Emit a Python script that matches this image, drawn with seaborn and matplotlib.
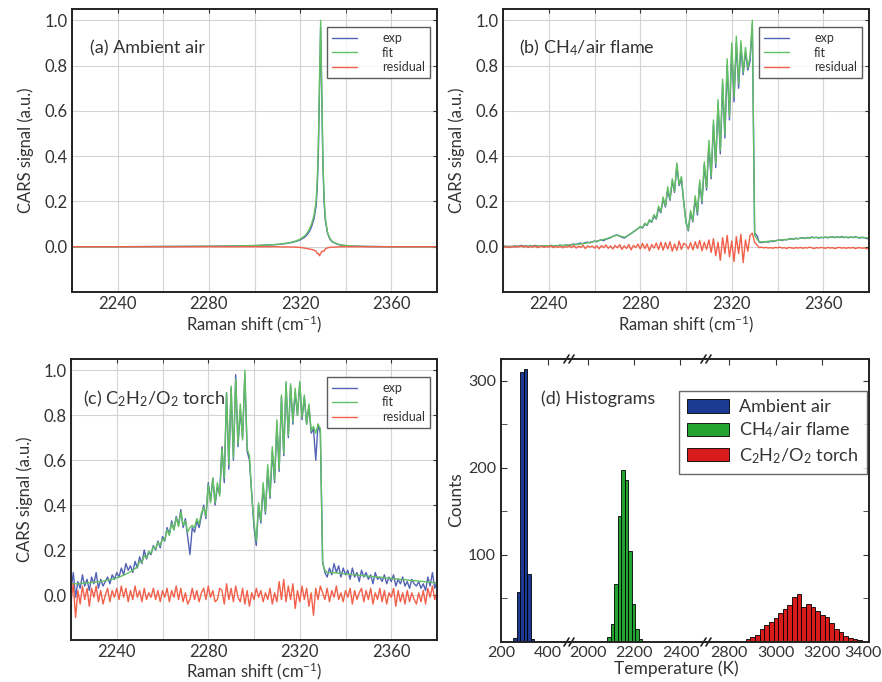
import numpy as np
import matplotlib
matplotlib.use("Agg")
import matplotlib.pyplot as plt
import matplotlib.transforms as mtransforms
import seaborn as sns
from matplotlib.patches import Patch
from matplotlib.ticker import MultipleLocator, FixedLocator

# ---------------- data ----------------
# (a) ambient air
xa = [2220, 2240, 2260, 2280, 2290, 2300, 2305, 2310, 2313, 2316, 2318, 2320, 2322, 2323, 2324, 2325,
      2326, 2327, 2327.5, 2328, 2328.5, 2329, 2329.5, 2330, 2330.5, 2331, 2332, 2333, 2334, 2336, 2338,
      2342, 2350, 2360, 2380]
exp_a = [0, 0, 0.001, 0.002, 0.003, 0.005, 0.007, 0.010, 0.013, 0.018, 0.023, 0.030, 0.042, 0.052, 0.066,
         0.088, 0.12, 0.18, 0.26, 0.42, 0.70, 0.97, 0.66, 0.36, 0.20, 0.12, 0.06, 0.035, 0.022, 0.012,
         0.007, 0.003, 0.001, 0, 0]
fit_a = [0, 0, 0.001, 0.002, 0.003, 0.005, 0.007, 0.010, 0.014, 0.019, 0.025, 0.033, 0.048, 0.060, 0.076,
         0.10, 0.135, 0.20, 0.29, 0.45, 0.74, 1.0, 0.68, 0.38, 0.22, 0.13, 0.065, 0.038, 0.024, 0.013,
         0.007, 0.003, 0.001, 0, 0]
res_a = [0, 0, 0, 0, 0, 0, 0, 0, -0.001, -0.001, -0.002, -0.003, -0.006, -0.008, -0.010, -0.012,
         -0.015, -0.020, -0.030, -0.030, -0.040, -0.030, -0.020, -0.020, -0.020, -0.010, -0.005, -0.003,
         -0.002, -0.001, 0, 0, 0, 0, 0]

# (b), (c) Raman shift grid 2220..2380 step 1
x_bc = list(range(2220, 2381))
exp_b = [0.000, 0.003, -0.002, 0.002, 0.000, 0.004, -0.001, 0.003, 0.006, 0.002,
         0.004, 0.000, 0.005, 0.002, 0.006, 0.003, 0.001, 0.004, 0.002, 0.005,
         0.003, 0.006, 0.004, 0.002, 0.005, 0.007, 0.004, 0.006, 0.008, 0.006,
         0.010, 0.012, 0.009, 0.014, 0.016, 0.013, 0.018, 0.020, 0.017, 0.022,
         0.025, 0.022, 0.028, 0.030, 0.027, 0.033, 0.036, 0.040, 0.046, 0.050,
         0.052, 0.046, 0.042, 0.038, 0.045, 0.052, 0.058, 0.066, 0.072, 0.080,
         0.088, 0.082, 0.100, 0.094, 0.115, 0.108, 0.135, 0.122, 0.170, 0.150,
         0.210, 0.175, 0.250, 0.205, 0.290, 0.240, 0.360, 0.270, 0.300, 0.200,
         0.110, 0.070, 0.150, 0.110, 0.210, 0.140, 0.280, 0.190, 0.360, 0.250,
         0.450, 0.300, 0.540, 0.350, 0.630, 0.410, 0.720, 0.480, 0.800, 0.560,
         0.880, 0.640, 0.900, 0.700, 0.880, 0.760, 0.860, 0.780, 0.820, 0.980,
         0.060, 0.050, 0.020, 0.018, 0.020, 0.022, 0.020, 0.024, 0.023, 0.026,
         0.028, 0.030, 0.027, 0.032, 0.030, 0.034, 0.036, 0.033, 0.038, 0.035,
         0.038, 0.040, 0.036, 0.041, 0.039, 0.043, 0.040, 0.042, 0.038, 0.041,
         0.040, 0.043, 0.039, 0.042, 0.044, 0.040, 0.043, 0.041, 0.045, 0.040,
         0.042, 0.039, 0.043, 0.040, 0.044, 0.041, 0.038, 0.042, 0.040, 0.036,
         0.035]
fit_b = [0.001, 0.001, 0.001, 0.001, 0.001, 0.002, 0.002, 0.002, 0.002, 0.002,
         0.002, 0.002, 0.003, 0.003, 0.003, 0.003, 0.003, 0.003, 0.004, 0.004,
         0.004, 0.004, 0.004, 0.005, 0.005, 0.005, 0.006, 0.006, 0.007, 0.007,
         0.008, 0.009, 0.010, 0.011, 0.012, 0.014, 0.015, 0.017, 0.019, 0.021,
         0.023, 0.025, 0.027, 0.030, 0.032, 0.035, 0.038, 0.041, 0.045, 0.049,
         0.050, 0.048, 0.045, 0.042, 0.046, 0.052, 0.058, 0.066, 0.073, 0.080,
         0.090, 0.084, 0.104, 0.096, 0.120, 0.110, 0.142, 0.125, 0.180, 0.155,
         0.220, 0.180, 0.265, 0.210, 0.300, 0.245, 0.370, 0.275, 0.310, 0.195,
         0.105, 0.075, 0.160, 0.115, 0.225, 0.150, 0.295, 0.200, 0.375, 0.260,
         0.470, 0.310, 0.560, 0.365, 0.650, 0.425, 0.740, 0.495, 0.830, 0.575,
         0.900, 0.660, 0.930, 0.720, 0.910, 0.770, 0.880, 0.790, 0.840, 1.000,
         0.050, 0.035, 0.022, 0.021, 0.022, 0.023, 0.024, 0.025, 0.026, 0.027,
         0.028, 0.029, 0.030, 0.031, 0.032, 0.033, 0.034, 0.035, 0.035, 0.036,
         0.037, 0.038, 0.038, 0.039, 0.039, 0.040, 0.040, 0.040, 0.041, 0.041,
         0.041, 0.041, 0.042, 0.042, 0.042, 0.042, 0.042, 0.042, 0.042, 0.042,
         0.042, 0.042, 0.042, 0.042, 0.041, 0.041, 0.041, 0.040, 0.040, 0.039,
         0.039]
res_b = [0.000, -0.003, 0.002, -0.004, 0.001, -0.002, 0.003, -0.001, 0.004, -0.002,
         0.002, -0.003, 0.001, -0.002, 0.003, -0.004, 0.000, 0.002, -0.003, 0.001,
         -0.002, 0.003, -0.004, 0.001, -0.003, 0.002, -0.005, 0.001, -0.002, 0.003,
         -0.004, 0.005, -0.006, 0.002, -0.003, 0.006, -0.008, 0.004, -0.002, 0.003,
         -0.006, 0.004, -0.009, 0.005, -0.004, 0.008, -0.007, 0.003, -0.010, 0.006,
         -0.005, 0.009, -0.012, 0.004, -0.008, 0.010, -0.014, 0.006, -0.004, 0.012,
         -0.010, 0.015, -0.008, 0.012, -0.018, 0.010, -0.006, 0.016, -0.012, 0.020,
         -0.015, 0.018, -0.010, 0.022, -0.020, 0.012, -0.016, 0.025, -0.012, 0.015,
         0.008, -0.010, 0.018, -0.014, 0.022, -0.008, 0.028, -0.018, 0.020, -0.012,
         0.030, -0.025, 0.035, -0.040, 0.020, -0.060, 0.040, -0.030, 0.050, -0.045,
         0.025, -0.065, 0.045, -0.030, 0.055, -0.070, 0.030, -0.020, 0.050, 0.060,
         0.020, 0.008, -0.004, -0.002, -0.005, -0.003, -0.006, -0.004, -0.007, -0.003,
         -0.005, -0.002, -0.006, -0.004, -0.008, -0.003, -0.005, -0.007, -0.004, -0.006,
         -0.003, -0.007, -0.004, -0.006, -0.002, -0.005, -0.008, -0.004, -0.006, -0.003,
         -0.005, -0.007, -0.003, -0.006, -0.004, -0.008, -0.005, -0.003, -0.006, -0.004,
         -0.007, -0.004, -0.006, -0.003, -0.008, -0.005, -0.004, -0.007, -0.005, -0.009,
         -0.006]
exp_c = [0.020, 0.100, -0.010, 0.060, 0.030, 0.090, 0.040, 0.070, 0.020, 0.080,
         0.050, 0.100, 0.030, 0.070, 0.040, 0.060, 0.080, 0.050, 0.090, 0.070,
         0.100, 0.080, 0.120, 0.090, 0.140, 0.110, 0.130, 0.100, 0.150, 0.120,
         0.170, 0.140, 0.200, 0.160, 0.190, 0.180, 0.220, 0.200, 0.240, 0.210,
         0.260, 0.240, 0.300, 0.270, 0.330, 0.290, 0.350, 0.310, 0.380, 0.300,
         0.340, 0.260, 0.180, 0.300, 0.280, 0.330, 0.300, 0.350, 0.400, 0.340,
         0.500, 0.420, 0.520, 0.400, 0.480, 0.450, 0.660, 0.500, 0.900, 0.560,
         0.920, 0.600, 0.980, 0.660, 0.820, 0.700, 0.980, 0.640, 0.600, 0.450,
         0.300, 0.220, 0.400, 0.320, 0.480, 0.360, 0.560, 0.430, 0.640, 0.500,
         0.760, 0.550, 0.880, 0.620, 0.940, 0.700, 0.930, 0.760, 0.900, 0.800,
         0.940, 0.780, 0.880, 0.760, 0.840, 0.720, 0.740, 0.600, 0.760, 0.720,
         0.150, 0.100, 0.080, 0.120, 0.090, 0.140, 0.100, 0.130, 0.080, 0.120,
         0.090, 0.110, 0.070, 0.120, 0.080, 0.100, 0.060, 0.110, 0.080, 0.100,
         0.070, 0.090, 0.050, 0.100, 0.070, 0.080, 0.060, 0.090, 0.050, 0.080,
         0.060, 0.090, 0.040, 0.070, 0.050, 0.080, 0.040, 0.060, 0.030, 0.070,
         0.050, 0.040, 0.060, 0.030, 0.050, 0.020, 0.080, 0.040, 0.100, 0.030,
         0.060]
fit_c = [0.050, 0.050, 0.050, 0.050, 0.051, 0.052, 0.053, 0.054, 0.055, 0.056,
         0.057, 0.058, 0.059, 0.060, 0.062, 0.064, 0.066, 0.068, 0.070, 0.073,
         0.076, 0.080, 0.084, 0.088, 0.093, 0.098, 0.104, 0.110, 0.118, 0.124,
         0.150, 0.145, 0.175, 0.165, 0.195, 0.185, 0.215, 0.205, 0.235, 0.220,
         0.250, 0.245, 0.290, 0.265, 0.320, 0.290, 0.345, 0.305, 0.370, 0.310,
         0.330, 0.280, 0.300, 0.310, 0.300, 0.340, 0.315, 0.365, 0.390, 0.350,
         0.490, 0.410, 0.520, 0.410, 0.500, 0.440, 0.650, 0.520, 0.900, 0.580,
         0.930, 0.610, 0.960, 0.670, 0.850, 0.690, 1.000, 0.650, 0.620, 0.450,
         0.320, 0.240, 0.410, 0.330, 0.500, 0.370, 0.580, 0.440, 0.660, 0.510,
         0.780, 0.560, 0.890, 0.630, 0.950, 0.710, 0.940, 0.770, 0.920, 0.800,
         0.950, 0.790, 0.890, 0.760, 0.850, 0.730, 0.750, 0.720, 0.760, 0.740,
         0.140, 0.110, 0.100, 0.100, 0.100, 0.099, 0.098, 0.097, 0.096, 0.095,
         0.094, 0.093, 0.092, 0.091, 0.090, 0.089, 0.088, 0.087, 0.086, 0.085,
         0.084, 0.083, 0.082, 0.081, 0.080, 0.079, 0.078, 0.077, 0.076, 0.075,
         0.074, 0.073, 0.072, 0.071, 0.070, 0.069, 0.068, 0.067, 0.066, 0.065,
         0.064, 0.063, 0.062, 0.061, 0.060, 0.059, 0.058, 0.057, 0.056, 0.055,
         0.055]
res_c = [-0.030, 0.050, -0.100, 0.020, -0.040, 0.040, -0.020, 0.030, -0.050, 0.030,
         -0.010, 0.040, -0.030, 0.020, -0.040, 0.000, 0.030, -0.030, 0.020, -0.010,
         0.030, -0.020, 0.040, -0.010, 0.030, -0.030, 0.020, -0.020, 0.040, -0.010,
         0.020, -0.030, 0.030, -0.020, 0.010, -0.010, 0.030, -0.020, 0.020, -0.030,
         0.020, -0.010, 0.030, -0.030, 0.020, -0.010, 0.040, -0.020, 0.030, -0.030,
         0.010, -0.040, -0.020, 0.030, -0.020, 0.020, -0.030, 0.010, 0.030, -0.020,
         0.040, -0.010, 0.020, -0.030, -0.020, 0.030, 0.020, -0.040, 0.050, -0.020,
         0.030, -0.030, 0.040, -0.010, -0.030, 0.030, -0.040, 0.020, -0.050, 0.010,
         -0.020, 0.030, -0.010, 0.020, -0.030, 0.010, -0.020, 0.030, -0.040, 0.010,
         -0.030, 0.060, -0.020, 0.070, -0.030, 0.040, -0.020, 0.050, -0.060, 0.020,
         -0.030, 0.040, -0.020, 0.030, -0.050, 0.010, -0.090, 0.030, -0.020, 0.040,
         0.010, -0.020, 0.030, -0.030, 0.020, -0.010, 0.040, -0.020, 0.010, -0.030,
         0.020, -0.010, 0.030, -0.040, 0.020, -0.020, 0.010, 0.030, -0.030, 0.020,
         -0.020, 0.030, -0.040, 0.010, -0.020, 0.030, -0.030, 0.020, -0.040, 0.010,
         -0.010, 0.030, -0.050, 0.020, -0.030, 0.010, -0.040, 0.020, -0.030, 0.010,
         -0.020, -0.040, 0.010, -0.030, 0.020, -0.040, 0.030, -0.010, 0.040, -0.020,
         0.010]

# (d) temperature histograms (bin centres and counts)
air_T = [260, 275, 290, 305, 320, 335]
air_counts = [5, 57, 310, 313, 78, 4]
air_width = 15
ch4_T = [2077.5, 2092.5, 2107.5, 2122.5, 2137.5, 2152.5, 2167.5, 2182.5, 2197.5, 2212.5, 2227.5]
ch4_counts = [1, 6, 21, 67, 145, 197, 186, 105, 44, 15, 4]
ch4_width = 15
c2h2_T = [2880, 2900, 2920, 2940, 2960, 2980, 3000, 3020, 3040, 3060, 3080, 3100, 3120,
          3140, 3160, 3180, 3200, 3220, 3240, 3260, 3280, 3300, 3320, 3340, 3360]
c2h2_counts = [3, 6, 8, 15, 19, 23, 27, 33, 38, 43, 52, 55, 40,
               44, 40, 36, 31, 29, 22, 15, 11, 7, 5, 4, 2]
c2h2_width = 20

spec_xticks = [2240, 2280, 2320, 2360]
spec_yticks = [0.0, 0.2, 0.4, 0.6, 0.8, 1.0]
hist_segments = [(200, 490), (1920, 2510), (2700, 3400)]
hist_xticks = [[200, 400], [2000, 2200, 2400], [2800, 3000, 3200, 3400]]
hist_yticks = [100, 200, 300]

# ---------------- style ----------------
sns.set_style("white")
plt.rcParams['font.family'] = ['Lato', 'DejaVu Sans']
plt.rcParams['mathtext.fontset'] = 'custom'
plt.rcParams['mathtext.rm'] = 'Lato'
plt.rcParams['mathtext.it'] = 'Lato:italic'
plt.rcParams['mathtext.bf'] = 'Lato:bold'
plt.rcParams['mathtext.default'] = 'regular'

C_EXP = '#5262b4'
C_FIT = '#62c062'
C_RES = '#f2604a'
C_AIR = '#1c3a92'
C_CH4 = '#22a332'
C_C2H2 = '#d81c1c'
TXT = '#333333'
GRID = '#d4d4d4'

W, H = 882, 682
fig = plt.figure(figsize=(W / 100, H / 100), dpi=100)


def fr(l, t, r, b):
    return [l / W, 1 - b / H, (r - l) / W, (b - t) / H]


def spectrum(rect, x, e, f, r, title, tpos, xlpad=1):
    ax = fig.add_axes(fr(*rect))
    sns.lineplot(x=x, y=e, ax=ax, color=C_EXP, lw=1.0, label='exp', estimator=None, sort=False)
    sns.lineplot(x=x, y=f, ax=ax, color=C_FIT, lw=1.0, label='fit', estimator=None, sort=False)
    sns.lineplot(x=x, y=r, ax=ax, color=C_RES, lw=1.0, label='residual', estimator=None, sort=False)
    ax.set_xlim(2220, 2380)
    ax.set_ylim(-0.2, 1.05)
    ax.xaxis.set_major_locator(FixedLocator(spec_xticks))
    ax.xaxis.set_minor_locator(MultipleLocator(20))
    ax.set_yticks(spec_yticks)
    ax.set_yticklabels([f"{v:.1f}" for v in spec_yticks])
    ax.grid(True, which='both', axis='x', color=GRID, lw=0.8)
    ax.grid(True, which='major', axis='y', color=GRID, lw=0.8)
    ax.set_axisbelow(True)
    ax.tick_params(axis='both', which='both', direction='in', labelsize=12, colors=TXT,
                   length=3, top=True, right=True, pad=3)
    for s in ax.spines.values():
        s.set_color('#222222')
        s.set_linewidth(1.4)
    ax.set_xlabel('Raman shift (cm$^{-1}$)', fontsize=12, color=TXT, labelpad=xlpad)
    ax.set_ylabel('CARS signal (a.u.)', fontsize=12, color=TXT, labelpad=8)
    leg = ax.legend(loc='upper right', bbox_to_anchor=(0.981, 0.936), borderaxespad=0,
                    fontsize=9, handlelength=2.0, frameon=True, fancybox=False,
                    labelspacing=0.2, borderpad=0.4, handletextpad=2.0)
    leg.get_frame().set_edgecolor('#333333')
    leg.get_frame().set_linewidth(1.0)
    for t in leg.get_texts():
        t.set_color(TXT)
    ax.text(tpos[0], tpos[1], title, transform=ax.transAxes, fontsize=13, color=TXT,
            va='center', ha='left')
    return ax


spectrum((72, 9, 437, 292), xa, exp_a, fit_a, res_a, '(a) Ambient air', (0.049, 0.862))
spectrum((503, 9, 869, 292), x_bc, exp_b, fit_b, res_b, '(b) CH$_4$/air flame', (0.044, 0.862))
spectrum((71, 359, 437, 640), x_bc, exp_c, fit_c, res_c,
         '(c) C$_2$H$_2$/O$_2$ torch', (0.033, 0.859), xlpad=0.5)

# ---------------- (d) broken-axis histogram ----------------
seg_px = [(501, 569), (569, 706), (706, 869)]
hist_data = [(air_T, air_counts, air_width, C_AIR),
             (ch4_T, ch4_counts, ch4_width, C_CH4),
             (c2h2_T, c2h2_counts, c2h2_width, C_C2H2)]
axes_d = []
for i, ((l, r), (lo, hi), ticks, (cx, cnt, wd, col)) in enumerate(
        zip(seg_px, hist_segments, hist_xticks, hist_data)):
    ax = fig.add_axes(fr(l, 359, r, 642), sharey=axes_d[0] if axes_d else None)
    edges = [c - wd / 2 for c in cx] + [cx[-1] + wd / 2]
    sns.histplot(x=cx, weights=cnt, bins=edges, ax=ax, color=col, edgecolor='black',
                 linewidth=0.6, alpha=1.0, legend=False)
    ax.set_xlim(lo, hi)
    ax.set_ylim(0, 325)
    ax.set_xticks(ticks)
    ax.set_xlabel('')
    ax.set_ylabel('')
    ax.tick_params(axis='x', direction='in', labelsize=11.5, colors=TXT, length=4, top=True, pad=3)
    ax.yaxis.set_major_locator(FixedLocator(hist_yticks))
    ax.yaxis.set_minor_locator(FixedLocator([50, 150, 250]))
    ax.tick_params(axis='y', which='both', direction='in', labelsize=11.5, colors=TXT, length=4,
                   left=(i == 0), right=(i == 2), labelleft=(i == 0))
    for s in ax.spines.values():
        s.set_color('#222222')
        s.set_linewidth(1.4)
    if i > 0:
        ax.spines['left'].set_visible(False)
    if i < 2:
        ax.spines['right'].set_visible(False)
    ax.set_facecolor('white')
    axes_d.append(ax)

# keep the last tick label (3400) inside the canvas
last_lbl = axes_d[2].get_xticklabels()[-1]
last_lbl.set_transform(last_lbl.get_transform() +
                       mtransforms.ScaledTranslation(-6 / 100, 0, fig.dpi_scale_trans))

# break marks
for xb in (569, 706):
    for yb in (359, 642):
        for dx in (-2.5, 2.5):
            x0 = (xb + dx - 2.5) / W
            x1 = (xb + dx + 2.5) / W
            y0 = 1 - (yb + 4) / H
            y1 = 1 - (yb - 4) / H
            fig.add_artist(plt.Line2D([x0, x1], [y0, y1], color='#222222', lw=1.2))

fig.text(676 / W, 1 - 669 / H, 'Temperature (K)', ha='center', va='center', fontsize=12.5, color=TXT)
fig.text(456 / W, 1 - 500 / H, 'Counts', ha='center', va='center', rotation=90, fontsize=12.5,
         color=TXT)
fig.text(541 / W, 1 - 399 / H, '(d) Histograms', ha='left', va='center', fontsize=13, color=TXT)

handles = [Patch(facecolor=C_AIR, edgecolor='black', lw=0.6),
           Patch(facecolor=C_CH4, edgecolor='black', lw=0.6),
           Patch(facecolor=C_C2H2, edgecolor='black', lw=0.6)]
labels = ['Ambient air', 'CH$_4$/air flame', 'C$_2$H$_2$/O$_2$ torch']
leg = fig.legend(handles, labels, loc='upper left', bbox_to_anchor=(679 / W, 1 - 391 / H),
                 borderaxespad=0, fontsize=13, frameon=True, fancybox=False,
                 handlelength=2.3, handleheight=0.8, labelspacing=0.3, borderpad=0.45,
                 handletextpad=0.6)
leg.get_frame().set_edgecolor('#444444')
leg.get_frame().set_linewidth(1.0)
for t in leg.get_texts():
    t.set_color(TXT)

fig.savefig('out.png', dpi=100, facecolor='white')
